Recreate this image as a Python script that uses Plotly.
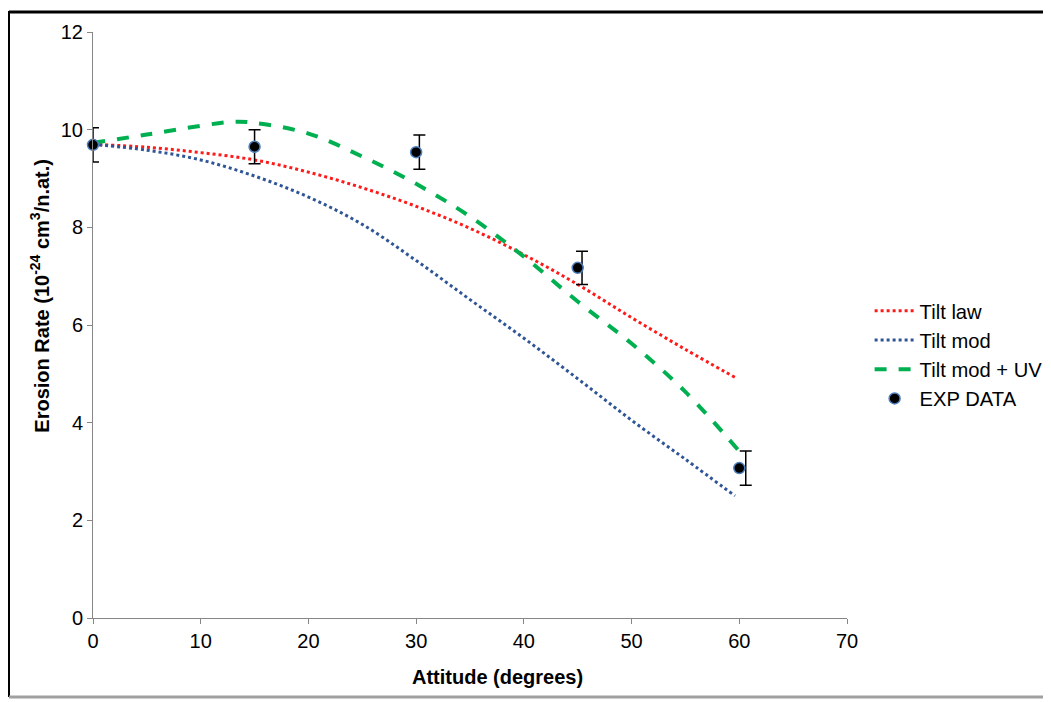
import plotly.graph_objects as go

# ---- data ----
angle = [0, 5, 10, 15, 20, 25, 30, 35, 40, 45, 50, 55, 59.75]
tilt_law = [9.70, 9.64, 9.53, 9.38, 9.13, 8.81, 8.43, 7.98, 7.44, 6.83, 6.15, 5.50, 4.91]

angle_mod = [0, 5, 10, 15, 20, 25, 30, 35, 40, 45, 50, 55, 59.6]
tilt_mod = [9.70, 9.58, 9.38, 9.05, 8.62, 8.06, 7.32, 6.52, 5.73, 4.90, 4.05, 3.25, 2.50]

angle_uv = [0, 5, 10, 13, 15, 20, 25, 30, 35, 40, 45, 50, 55, 59.9]
tilt_mod_uv = [9.73, 9.90, 10.08, 10.16, 10.14, 9.92, 9.45, 8.89, 8.22, 7.40, 6.48, 5.62, 4.63, 3.44]

exp_x = [0, 15, 30, 45, 60]
exp_y = [9.69, 9.65, 9.54, 7.17, 3.07]
err_x = [0, 15, 30.3, 45.4, 60.6]
err_y = [0.35, 0.35, 0.35, 0.34, 0.35]

x_ticks = [0, 10, 20, 30, 40, 50, 60, 70]
y_ticks = [0, 2, 4, 6, 8, 10, 12]

FONT = "Liberation Sans, Arial, sans-serif"
FS = 20

fig = go.Figure()
fig.add_trace(go.Scatter(x=angle, y=tilt_law, mode="lines", name="Tilt law",
                         line=dict(color="#FF1A1A", width=3, dash="dot", shape="spline"),
                         cliponaxis=False))
fig.add_trace(go.Scatter(x=angle_mod, y=tilt_mod, mode="lines", name="Tilt mod",
                         line=dict(color="#2F5597", width=3, dash="dot", shape="spline"),
                         cliponaxis=False))
fig.add_trace(go.Scatter(x=angle_uv, y=tilt_mod_uv, mode="lines", name="Tilt mod + UV",
                         line=dict(color="#00B050", width=4, dash="dash", shape="spline"),
                         cliponaxis=False))
# error bars (slightly offset as in the reference)
fig.add_trace(go.Scatter(x=err_x, y=exp_y, mode="markers", showlegend=False,
                         marker=dict(size=1, opacity=0),
                         error_y=dict(type="data", array=err_y, visible=True,
                                      color="#000000", thickness=1.5, width=6),
                         cliponaxis=False, hoverinfo="skip"))
fig.add_trace(go.Scatter(x=exp_x, y=exp_y, mode="markers", name="EXP DATA",
                         marker=dict(size=11, color="#000000",
                                     line=dict(color="#4F81BD", width=1.5)),
                         cliponaxis=False))

# page has an 8px body margin, so the figure is sized/offset to compensate
fig.update_layout(
    width=1043, height=694,
    margin=dict(l=85, r=204, t=24, b=84, autoexpand=False),
    paper_bgcolor="white", plot_bgcolor="white",
    font=dict(family=FONT, size=FS, color="#000000"),
    showlegend=True,
    legend=dict(x=1.03, y=0.558, xanchor="left", yanchor="top",
                font=dict(family=FONT, size=20.2, color="#000000"),
                bgcolor="rgba(0,0,0,0)", tracegroupgap=0, itemwidth=40),
    xaxis=dict(range=[0, 70], tickvals=x_ticks, ticks="outside", ticklen=5,
               tickcolor="#868686", showline=True, linecolor="#868686", linewidth=1,
               showgrid=False, zeroline=False,
               tickfont=dict(family=FONT, size=FS, color="#000000")),
    yaxis=dict(range=[0, 12], tickvals=y_ticks, ticks="outside", ticklen=5,
               tickcolor="#868686", showline=True, linecolor="#868686", linewidth=1,
               showgrid=False, zeroline=False,
               tickfont=dict(family=FONT, size=FS, color="#000000")),
    annotations=[
        dict(text="<b>Attitude (degrees)</b>", xref="paper", yref="paper",
             x=0.537, y=-0.10, xanchor="center", yanchor="middle", showarrow=False,
             font=dict(family=FONT, size=FS, color="#000000")),
        dict(text="<b>Erosion Rate (10<sup>-24</sup> cm<sup>3</sup>/n.at.)</b>",
             xref="paper", yref="paper", x=-0.0703, y=0.55, textangle=-90,
             xanchor="center", yanchor="middle", showarrow=False,
             font=dict(family=FONT, size=FS, color="#000000")),
    ],
    shapes=[
        dict(type="line", xref="paper", yref="paper", x0=-0.1114, x1=1.28, y0=1.034, y1=1.034,
             line=dict(color="#000000", width=3)),
        dict(type="line", xref="paper", yref="paper", x0=-0.1114, x1=-0.1114, y0=-0.135, y1=1.036,
             line=dict(color="#000000", width=2)),
        dict(type="line", xref="paper", yref="paper", x0=-0.1114, x1=1.28, y0=-0.135, y1=-0.135,
             line=dict(color="#A0A0A0", width=3)),
    ],
)

fig.write_html("out.html")
